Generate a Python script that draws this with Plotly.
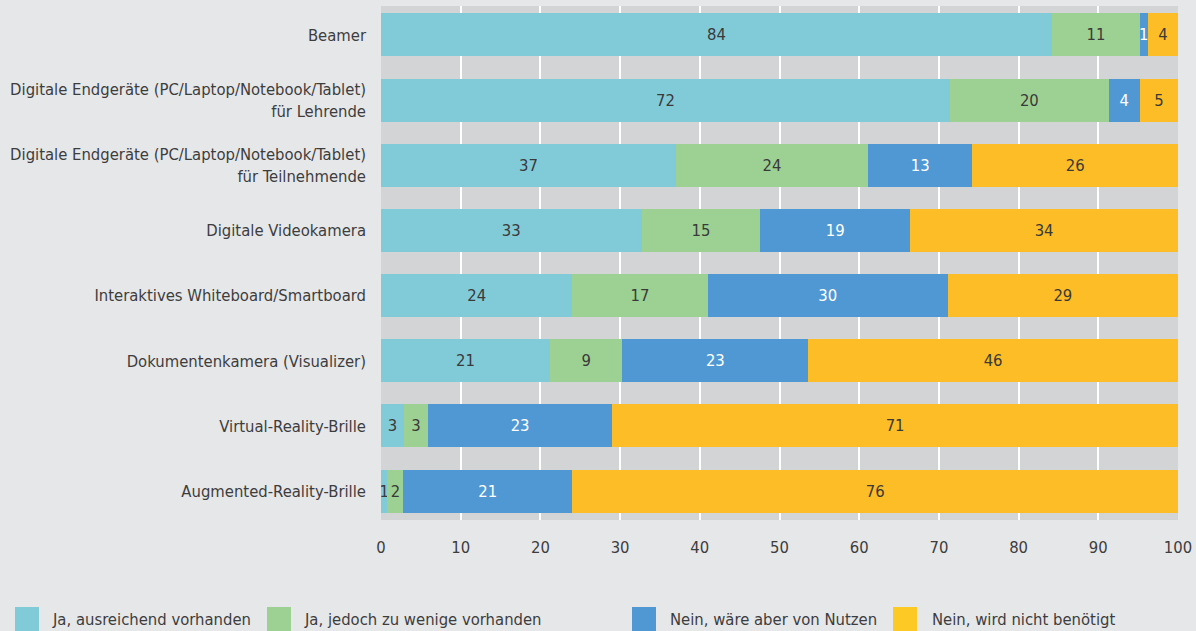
import plotly.graph_objects as go

categories = [
    "Beamer",
    "Digitale Endgeräte (PC/Laptop/Notebook/Tablet)<br>für Lehrende",
    "Digitale Endgeräte (PC/Laptop/Notebook/Tablet)<br>für Teilnehmende",
    "Digitale Videokamera",
    "Interaktives Whiteboard/Smartboard",
    "Dokumentenkamera (Visualizer)",
    "Virtual-Reality-Brille",
    "Augmented-Reality-Brille",
]

series_names = [
    "Ja, ausreichend vorhanden",
    "Ja, jedoch zu wenige vorhanden",
    "Nein, wäre aber von Nutzen",
    "Nein, wird nicht benötigt",
]

# bar widths (percent)
ja_ausreichend = [84.2, 71.4, 37.0, 32.7, 24.0, 21.2, 2.9, 0.8]
ja_wenige = [11.0, 19.9, 24.1, 14.9, 17.0, 9.1, 3.0, 2.0]
nein_nutzen = [1.0, 3.9, 13.1, 18.8, 30.1, 23.3, 23.1, 21.2]
nein_nicht = [3.8, 4.8, 25.8, 33.6, 28.9, 46.4, 71.0, 76.0]

# printed labels
lab_ja_ausreichend = ["84", "72", "37", "33", "24", "21", "3", "1"]
lab_ja_wenige = ["11", "20", "24", "15", "17", "9", "3", "2"]
lab_nein_nutzen = ["1", "4", "13", "19", "30", "23", "23", "21"]
lab_nein_nicht = ["4", "5", "26", "34", "29", "46", "71", "76"]

x_ticks = [0, 10, 20, 30, 40, 50, 60, 70, 80, 90, 100]

colors = ["#81cbd9", "#9dd193", "#5098d3", "#fdbd26"]
legend_colors = ["#81cbd9", "#9dd193", "#5098d3", "#fdc925"]
text_colors = ["#3a3a3a", "#3a3a3a", "#ffffff", "#3a3a3a"]

FONT = "Liberation Sans Narrow, Arial Narrow, DejaVu Sans Condensed, sans-serif"
FS = 16.5

W, H = 1196, 631
ML, MR, MT, MB = 381, 18, 6, 111
PW = W - ML - MR
PH = H - MT - MB

fig = go.Figure()
all_vals = [ja_ausreichend, ja_wenige, nein_nutzen, nein_nicht]
all_labs = [lab_ja_ausreichend, lab_ja_wenige, lab_nein_nutzen, lab_nein_nicht]
for name, vals, labs, col, tcol in zip(series_names, all_vals, all_labs, colors, text_colors):
    fig.add_trace(go.Bar(
        y=categories, x=vals, name=name, orientation="h",
        marker=dict(color=col, line=dict(width=0)),
        text=labs, textposition="inside", insidetextanchor="middle",
        textangle=0, constraintext="none",
        textfont=dict(family=FONT, size=FS, color=tcol),
        width=0.66, showlegend=False,
    ))

fig.update_layout(
    width=W, height=H,
    barmode="stack",
    paper_bgcolor="#e6e7e9",
    plot_bgcolor="#d3d4d6",
    margin=dict(l=ML, r=MR, t=MT, b=MB, pad=0),
    font=dict(family=FONT, size=FS, color="#3d3d3d"),
    uniformtext=dict(minsize=FS, mode="show"),
    xaxis=dict(
        range=[0, 100], tickvals=x_ticks, showgrid=True, gridcolor="#ffffff",
        gridwidth=2, zeroline=False, showline=False, ticks="",
        ticklabelstandoff=15, tickfont=dict(family=FONT, size=FS, color="#3d3d3d"),
        fixedrange=True, automargin=False,
    ),
    yaxis=dict(
        categoryorder="array", categoryarray=categories,
        autorange=False, range=[7.445, -0.445],
        showgrid=False, zeroline=False, showline=False, ticks="",
        ticklabelstandoff=14, tickfont=dict(family=FONT, size=FS, color="#3d3d3d"),
        fixedrange=True, automargin=False,
    ),
    showlegend=False,
)

# legend drawn as swatches + labels below the plot (pixel positions converted to paper coords)
legend_sw_x = [15, 267, 632, 893]
legend_txt_x = [50, 302, 668, 930]
sw_size = 24
sw_top, sw_bot = 607, 631
txt_y = 619

def px_to_xp(px):
    return (px - ML) / PW

def py_to_yp(py):
    return (H - MB - py) / PH

for name, col, sx, tx in zip(series_names, legend_colors, legend_sw_x, legend_txt_x):
    fig.add_shape(type="rect", xref="paper", yref="paper",
                  x0=px_to_xp(sx), x1=px_to_xp(sx + sw_size),
                  y0=py_to_yp(sw_bot), y1=py_to_yp(sw_top),
                  fillcolor=col, line=dict(width=0), layer="above")
    fig.add_annotation(text=name, xref="paper", yref="paper",
                       x=px_to_xp(tx), y=py_to_yp(txt_y),
                       xanchor="left", yanchor="middle", showarrow=False,
                       font=dict(family=FONT, size=FS, color="#3d3d3d"))

fig.write_html(
    "out.html",
    config={"displayModeBar": False},
    post_script="document.body.style.margin='0';document.body.style.background='#e6e7e9';",
)
